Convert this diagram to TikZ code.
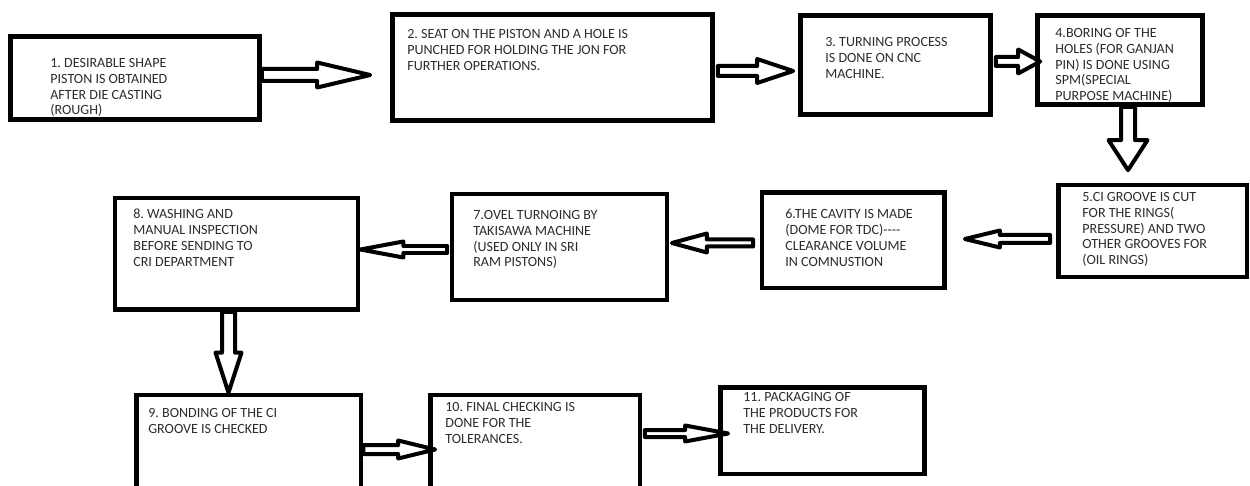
\documentclass[tikz,border=0pt]{standalone}
\usepackage{fontspec}
\setmainfont{Carlito}
\usetikzlibrary{calc}
\definecolor{flowtext}{RGB}{45,45,45}

\begin{document}
\frenchspacing
\begin{tikzpicture}[
    x=0.02cm, y=-0.02cm,
    box/.style={rectangle, draw=black, line width=0.095cm, inner sep=0pt},
    txt/.style={anchor=north west, align=left, inner sep=0pt, text=flowtext, font=\fontsize{8}{9}\selectfont},
    arrs/.store in=\arrs, arrh/.store in=\arrh, arrl/.store in=\arrl,
    arrs=5, arrh=12, arrl=40,
    blk/.style={draw=black, line width=0.08cm, line join=round},
    hblk/.style={blk, to path={
        ($(\tikztostart)-(0,\arrs)$) -- ($(\tikztotarget)-(\arrl,\arrs)$) -- ($(\tikztotarget)-(\arrl,\arrh)$)
        -- (\tikztotarget) -- ($(\tikztotarget)-(\arrl,-\arrh)$) -- ($(\tikztotarget)-(\arrl,-\arrs)$)
        -- ($(\tikztostart)-(0,-\arrs)$) -- cycle}},
    vblk/.style={blk, to path={
        ($(\tikztostart)-(\arrs,0)$) -- ($(\tikztotarget)-(\arrs,\arrl)$) -- ($(\tikztotarget)-(\arrh,\arrl)$)
        -- (\tikztotarget) -- ($(\tikztotarget)-(-\arrh,\arrl)$) -- ($(\tikztotarget)-(-\arrs,\arrl)$)
        -- ($(\tikztostart)-(-\arrs,0)$) -- cycle}}
]
    \fill[white] (0,0) rectangle (1250,486);
    \useasboundingbox (0,0) rectangle (1250,486);
    \clip (0,0) rectangle (1250,486);

    % Row 1: steps 1 to 4
    \node[box, minimum width=4.98cm, minimum height=1.66cm] (b1) at (135,78) {};
    \node[box, minimum width=6.4cm, minimum height=2.12cm] (b2) at (552.5,67.5) {};
    \node[box, minimum width=3.8cm, minimum height=1.98cm] (b3) at (895.5,65) {};
    \node[box, minimum width=3.3cm, minimum height=1.78cm] (b4) at (1120,60) {};

    % Row 2: steps 5 to 8, right to left
    \node[box, minimum width=3.77cm, minimum height=1.84cm] (b5) at (1152.75,231) {};
    \node[box, minimum width=3.65cm, minimum height=1.91cm] (b6) at (853.25,240.25) {};
    \node[box, minimum width=4.3cm, minimum height=2.12cm] (b7) at (559.5,247) {};
    \node[box, minimum width=4.86cm, minimum height=2.23cm] (b8) at (236.5,253.75) {};

    % Row 3: steps 9 to 11
    \node[box, minimum width=4.49cm, minimum height=2cm] (b9) at (248.75,445) {};
    \node[box, minimum width=4.19cm, minimum height=2cm] (b10) at (535.25,445) {};
    \node[box, minimum width=4.08cm, minimum height=1.73cm] (b11) at (822.5,430.75) {};

    % Texts
    \node[txt] (t1) at (50,58) {1. DESIRABLE SHAPE\\PISTON IS OBTAINED\\AFTER DIE CASTING\\(ROUGH)};
    \node[txt] (t2) at (407,29) {2. SEAT ON THE PISTON AND A HOLE IS\\PUNCHED FOR HOLDING THE JON FOR\\FURTHER OPERATIONS.};
    \node[txt] (t3) at (825,37) {3. TURNING PROCESS\\IS DONE ON CNC\\MACHINE.};
    \node[txt] (t4) at (1055,28) {4.BORING OF THE\\HOLES (FOR GANJAN\\PIN) IS DONE USING\\SPM(SPECIAL\\PURPOSE MACHINE)};
    \node[txt] (t5) at (1082,192) {5.CI GROOVE IS CUT\\FOR THE RINGS(\\PRESSURE) AND TWO\\OTHER GROOVES FOR\\(OIL RINGS)};
    \node[txt] (t6) at (785,209) {6.THE CAVITY IS MADE\\(DOME FOR TDC)-{}-{}-{}-\\CLEARANCE VOLUME\\IN COMNUSTION};
    \node[txt] (t7) at (473,210) {7.OVEL TURNOING BY\\TAKISAWA MACHINE\\(USED ONLY IN SRI\\RAM PISTONS)};
    \node[txt] (t8) at (133,209) {8. WASHING AND\\MANUAL INSPECTION\\BEFORE SENDING TO\\CRI DEPARTMENT};
    \node[txt] (t9) at (148,408) {9. BONDING OF THE CI\\GROOVE IS CHECKED};
    \node[txt] (t10) at (445,402) {10. FINAL CHECKING IS\\DONE FOR THE\\TOLERANCES.};
    \node[txt] (t11) at (743,392) {11. PACKAGING OF\\THE PRODUCTS FOR\\THE DELIVERY.};

    % Block arrows
    \draw[hblk, arrs=6, arrh=12.5, arrl=53] ([yshift=0.06cm]b1.east) to ([xshift=-0.4cm,yshift=0.06cm]b2.west |- b1.east);
    \draw[hblk, arrs=5, arrh=12, arrl=36] ([xshift=0.06cm,yshift=-0.07cm]b2.east) to ([xshift=-0.1cm,yshift=-0.07cm]b3.west |- b2.east);
    \draw[hblk, arrs=4.5, arrh=12, arrl=22] ([xshift=0.06cm,yshift=0.07cm]b3.east) to ([xshift=0.1cm,yshift=0.07cm]b4.west |- b3.east);
    \draw[vblk, arrs=7, arrh=19.5, arrl=30] ([xshift=0.16cm]b4.south) to ([xshift=0.16cm,yshift=0.25cm]b4.south |- b5.north);
    \draw[hblk, arrs=4, arrh=8.5, arrl=-35] ([xshift=-0.12cm,yshift=-0.16cm]b5.west) to ([xshift=0.36cm,yshift=-0.16cm]b6.east |- b5.west);
    \draw[hblk, arrs=3.5, arrh=9.5, arrl=-35] ([xshift=-0.13cm,yshift=-0.055cm]b6.west) to ([xshift=0.05cm,yshift=-0.055cm]b7.east |- b6.west);
    \draw[hblk, arrs=3.5, arrh=8, arrl=-43] ([xshift=-0.05cm,yshift=-0.05cm]b7.west) to ([yshift=-0.05cm]b8.east |- b7.west);
    \draw[vblk, arrs=6.5, arrh=13, arrl=40] ([xshift=-0.16cm]b8.south) to ([xshift=-0.16cm]b8.south |- b9.north);
    \draw[hblk, arrs=4.5, arrh=9, arrl=37] ([yshift=-0.09cm]b9.east) to ([xshift=0.14cm,yshift=-0.09cm]b10.west |- b9.east);
    \draw[hblk, arrs=3.5, arrh=8, arrl=43] ([xshift=0.05cm,yshift=0.23cm]b10.east) to ([xshift=0.2cm,yshift=0.23cm]b11.west |- b10.east);
\end{tikzpicture}
\end{document}
